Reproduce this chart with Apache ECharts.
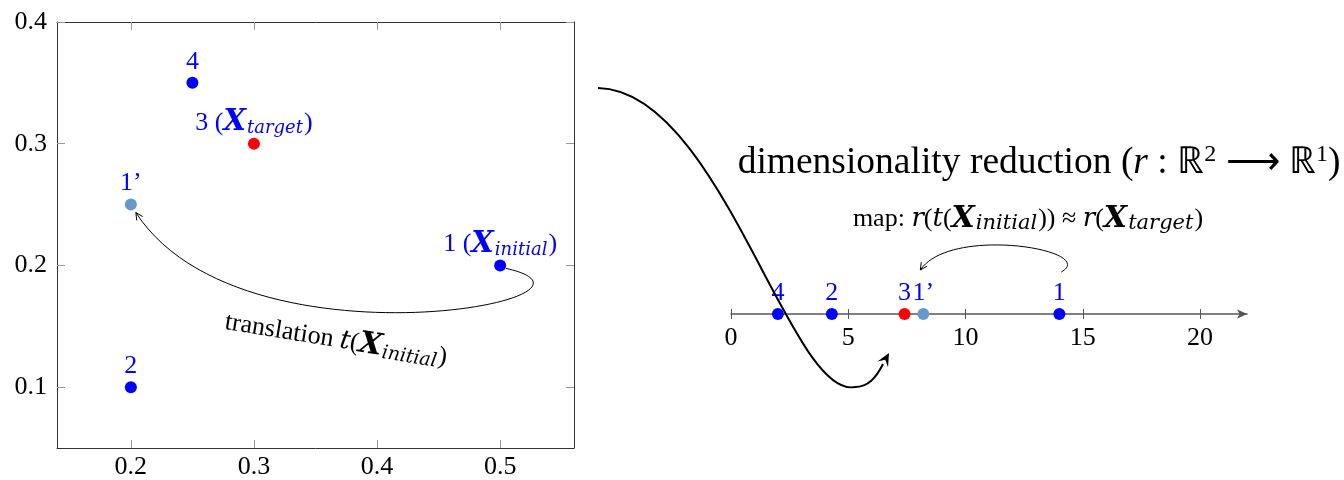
<!DOCTYPE html>
<html>
<head>
<meta charset="utf-8">
<script src="https://cdn.jsdelivr.net/npm/echarts@6/dist/echarts.min.js"></script>
<style>
html, body { margin: 0; padding: 0; background: #fff; }
#chart { width: 1344px; height: 480px; }
</style>
</head>
<body>
<div id="chart"></div>
<script>
// points in the 2D space (left panel)
const pointNames = ['1', '2', '3', '4', '1’'];
const xValues = [0.5, 0.2, 0.3, 0.25, 0.2];
const yValues = [0.2, 0.1, 0.3, 0.35, 0.25];
// same points after the reduction r (right panel)
const reducedValues = [14, 4.3, 7.4, 2.0, 8.2];
// tick labels
const xTicks = [0.2, 0.3, 0.4, 0.5];
const yTicks = [0.1, 0.2, 0.3, 0.4];
const lineTicks = [0, 5, 10, 15, 20];

const FONT = 'Liberation Serif';
const MATH = 'DejaVu Serif';
const BLUE = '#0000ff';
const colorOf = { '3': '#ff0000', '1’': '#6699cc' };
const subOf = { '1': 'initial', '3': 'target' };

// rich styles for math-ish labels (series labels use "color")
function labelRich(color, size, xSize, sub) {
  return {
    n: { fontFamily: FONT, fontSize: size, color: color, lineHeight: size + 4 },
    i: { fontFamily: MATH, fontSize: size, fontStyle: 'italic', color: color, lineHeight: size + 4 },
    b: { fontFamily: MATH, fontSize: xSize, fontStyle: 'italic', fontWeight: 'bold', color: color, lineHeight: size + 4 },
    s: { fontFamily: MATH, fontSize: sub, fontStyle: 'italic', color: color,
         lineHeight: sub, verticalAlign: 'bottom', padding: [0, 1, 0, 1] }
  };
}
// same for graphic text (zrender uses "fill")
function textRich(size, xSize, sub) {
  const r = labelRich('#000', size, xSize, sub);
  Object.keys(r).forEach(k => { r[k].fill = r[k].color; delete r[k].color; });
  r.p = { fontFamily: FONT, fontSize: Math.round(size * 0.65), fill: '#000',
          lineHeight: Math.round(size * 0.65), verticalAlign: 'top' };
  r.t = { fontFamily: FONT, fontSize: size, fill: '#000', lineHeight: size + 4 };
  r.ti = { fontFamily: FONT, fontSize: size, fontStyle: 'italic', fill: '#000', lineHeight: size + 4 };
  return r;
}

const chart = echarts.init(document.getElementById('chart'));

const frameLine = { show: true, lineStyle: { color: '#333', width: 1 } };
const innerTick = vals => ({ show: true, inside: true, length: 8, customValues: vals, lineStyle: { color: '#999' } });
const tickFont = { fontFamily: FONT, fontSize: 26, color: '#000' };

chart.setOption({
  animation: false,
  grid: [
    { left: 57, top: 22, width: 517, height: 430 },
    { left: 731, top: 264, width: 516, height: 50 }
  ],
  xAxis: [
    { gridIndex: 0, type: 'value', min: 0.14, max: 0.56, position: 'bottom',
      axisLine: frameLine, axisTick: innerTick(xTicks), splitLine: { show: false },
      axisLabel: Object.assign({ customValues: xTicks, margin: 6, formatter: v => v.toFixed(1) }, tickFont) },
    { gridIndex: 0, type: 'value', min: 0.14, max: 0.56, position: 'top',
      axisLine: frameLine, axisTick: innerTick(xTicks), splitLine: { show: false }, axisLabel: { show: false } },
    { gridIndex: 1, type: 'value', min: 0, max: 22, position: 'bottom',
      axisLine: { show: true, symbol: ['none', 'arrow'], symbolSize: [7, 10], lineStyle: { color: '#555', width: 1.5 } },
      axisTick: { show: true, length: 5, customValues: lineTicks, lineStyle: { color: '#555' } },
      splitLine: { show: false },
      axisLabel: Object.assign({ customValues: lineTicks, margin: 11 }, tickFont) },
    { gridIndex: 1, type: 'value', min: 0, max: 22, position: 'bottom',
      axisLine: { show: false },
      axisTick: { show: true, inside: true, length: 5, customValues: lineTicks, lineStyle: { color: '#555' } },
      splitLine: { show: false }, axisLabel: { show: false } }
  ],
  yAxis: [
    { gridIndex: 0, type: 'value', min: 0.05, max: 0.4, position: 'left',
      axisLine: frameLine, axisTick: innerTick(yTicks), splitLine: { show: false },
      axisLabel: Object.assign({ customValues: yTicks, margin: 10, formatter: v => v.toFixed(1) }, tickFont) },
    { gridIndex: 0, type: 'value', min: 0.05, max: 0.4, position: 'right',
      axisLine: frameLine, axisTick: innerTick(yTicks), splitLine: { show: false }, axisLabel: { show: false } },
    { gridIndex: 1, type: 'value', min: 0, max: 1, show: false }
  ],
  series: [
    {
      type: 'scatter', xAxisIndex: 0, yAxisIndex: 0, symbolSize: 12,
      data: pointNames.map((n, i) => ({
        name: n, value: [xValues[i], yValues[i]],
        itemStyle: { color: colorOf[n] || BLUE, opacity: 1 }
      })),
      label: {
        show: true, position: 'top', distance: 0,
        formatter: p => subOf[p.name]
          ? '{n|' + p.name + ' (}{b|X}{s|' + subOf[p.name] + '}{n|)}'
          : '{n|' + p.name + '}',
        rich: labelRich(BLUE, 26, 29, 18)
      }
    },
    {
      type: 'scatter', xAxisIndex: 2, yAxisIndex: 2, symbolSize: 12, z: 5,
      data: pointNames.map((n, i) => ({
        name: n, value: [reducedValues[i], 0],
        itemStyle: { color: colorOf[n] || BLUE, opacity: 1 }
      })),
      label: {
        show: true, position: 'top', distance: 0,
        formatter: '{n|{b}}', rich: labelRich(BLUE, 26, 29, 18)
      }
    }
  ]
});

// annotation arrows, anchored on the plotted points
function arrowHead(from, tip, len, halfW, filled) {
  const dx = tip[0] - from[0], dy = tip[1] - from[1];
  const d = Math.hypot(dx, dy), ux = dx / d, uy = dy / d, px = -uy, py = ux;
  const bx = tip[0] - ux * len, by = tip[1] - uy * len;
  const a = [bx + px * halfW, by + py * halfW];
  const b = [bx - px * halfW, by - py * halfW];
  if (filled) {
    return { type: 'polygon', z: 10,
      shape: { points: [tip, a, [tip[0] - ux * len * 0.6, tip[1] - uy * len * 0.6], b] },
      style: { fill: '#000' } };
  }
  return { type: 'polyline', z: 10, shape: { points: [a, tip, b] },
    style: { stroke: '#000', lineWidth: 1, fill: null } };
}
function curve(p0, c1, c2, p3, w) {
  return { type: 'bezierCurve', z: 10,
    shape: { x1: p0[0], y1: p0[1], cpx1: c1[0], cpy1: c1[1], cpx2: c2[0], cpy2: c2[1], x2: p3[0], y2: p3[1] },
    style: { stroke: '#000', lineWidth: w, fill: null } };
}
const add = (p, dx, dy) => [p[0] + dx, p[1] + dy];

const i1 = pointNames.indexOf('1'), i1p = pointNames.indexOf('1’');
const p1 = chart.convertToPixel({ gridIndex: 0 }, [xValues[i1], yValues[i1]]);
const p1p = chart.convertToPixel({ gridIndex: 0 }, [xValues[i1p], yValues[i1p]]);
const r1 = chart.convertToPixel({ xAxisIndex: 2, yAxisIndex: 2 }, [reducedValues[i1], 0]);
const r1p = chart.convertToPixel({ xAxisIndex: 2, yAxisIndex: 2 }, [reducedValues[i1p], 0]);

const tA = [add(p1, 6, 3), add(p1, 140, 33), add(p1p, 110, 170), add(p1p, 5, 8)];
const mA = [add(r1, 2, -42), add(r1, 40, -64), add(r1p, 27, -89), add(r1p, -3, -44)];
const bigA = [[598, 88], [720, 90], [790, 400], [855, 387]];
const bigB = [[855, 387], [868, 387], [876, 378], [883, 364]];
const bigTip = [889, 353];

function textEl(x, y, rot, str, size, xSize, sub) {
  return { type: 'text', x: x, y: y, rotation: rot, z: 10,
    style: { text: str, rich: textRich(size, xSize, sub), align: 'center', verticalAlign: 'middle',
             textAlign: 'center', textVerticalAlign: 'middle' } };
}

chart.setOption({
  graphic: [
    curve(tA[0], tA[1], tA[2], tA[3], 1),
    arrowHead(tA[2], tA[3], 7, 3.5, false),
    curve(mA[0], mA[1], mA[2], mA[3], 1),
    arrowHead(mA[2], mA[3], 7, 3.5, false),
    curve(bigA[0], bigA[1], bigA[2], bigA[3], 2),
    curve(bigB[0], bigB[1], bigB[2], bigB[3], 2),
    arrowHead(bigB[3], bigTip, 13, 6, true),
    textEl(336, 340, -0.16, '{n|translation }{i|t}{n|(}{b|X}{s|initial}{n|)}', 26, 30, 19),
    textEl(1039, 163, 0, '{t|dimensionality reduction (}{ti|r}{t| : ℝ}{p|2}{t| ⟶ ℝ}{p|1}{t|)}', 37.5, 37, 24),
    textEl(1028, 219, 0, '{n|map: }{i|r}{n|(}{i|t}{n|(}{b|X}{s|initial}{n|)) ≈ }{i|r}{n|(}{b|X}{s|target}{n|)}', 26, 30, 21)
  ]
});
</script>
</body>
</html>
